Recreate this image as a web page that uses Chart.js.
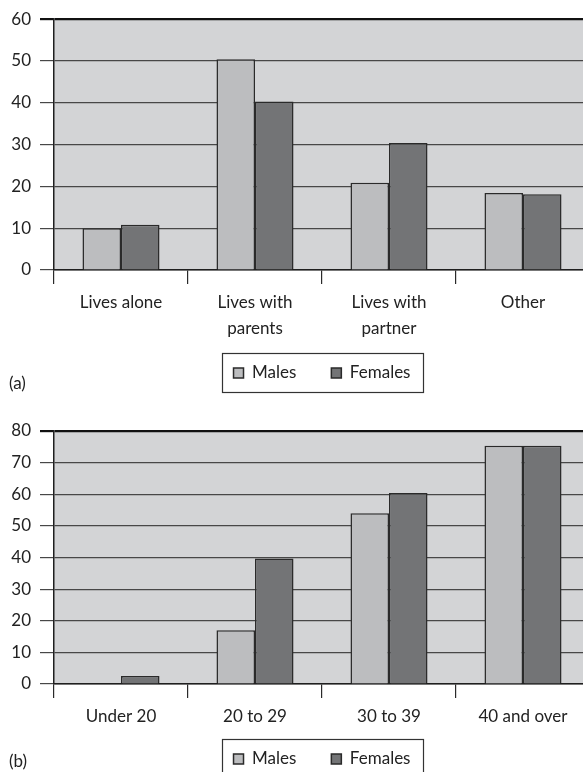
<!DOCTYPE html>
<html>
<head>
<meta charset="utf-8">
<script src="https://cdn.jsdelivr.net/npm/chart.js@4.4.1/dist/chart.umd.min.js"></script>
<style>
  html, body { margin: 0; padding: 0; background: #fff; width: 583px; height: 772px; overflow: hidden; position: relative; }
  canvas { position: absolute; left: 0; }
  .tag { position: absolute; left: 9px; font-family: Lato, sans-serif; font-size: 17px; color: #222; line-height: 22px; }
</style>
</head>
<body>
<canvas id="ca" width="590" height="412" style="top:0px"></canvas>
<canvas id="cb" width="590" height="396" style="top:400px"></canvas>
<div class="tag" style="top:372px">(a)</div>
<div class="tag" style="top:750px">(b)</div>
<script>
// ---- Data ----
const seriesNames = ['Males', 'Females'];

const livingCategories = [['Lives alone'], ['Lives with', 'parents'], ['Lives with', 'partner'], ['Other']];
const livingMales   = [10, 50.4, 20.9, 18.4];
const livingFemales = [10.8, 40.3, 30.4, 18.1];
const livingTicks = { min: 0, max: 60, step: 10 };

const ageCategories = ['Under 20', '20 to 29', '30 to 39', '40 and over'];
const ageMales   = [0, 17, 54, 75.3];
const ageFemales = [2.5, 39.7, 60.4, 75.3];
const ageTicks = { min: 0, max: 80, step: 10 };

// ---- Styles ----
const FONT = 'Lato, "Open Sans", sans-serif';
const TEXT = '#222';
const MALE_FILL = '#bcbdbf';
const FEMALE_FILL = '#737476';
const BAR_EDGE = '#2a2a2a';
const PLOT_BG = '#d3d4d6';
const GRID = '#474747';

const plotBg = {
  id: 'plotBg',
  beforeDraw(chart) {
    const { ctx, chartArea: a } = chart;
    ctx.save();
    ctx.fillStyle = PLOT_BG;
    ctx.fillRect(a.left, a.top, a.right - a.left, a.bottom - a.top);
    ctx.restore();
  }
};

const legendFrame = {
  id: 'legendFrame',
  afterLayout(chart, args, opts) {
    const lg = chart.legend, a = chart.chartArea;
    if (lg) {
      lg.left = a.left; lg.right = a.right;
      const h = lg.height;
      lg.top = opts.top; lg.bottom = opts.top + h;
    }
  },
  afterDraw(chart) {
    const lg = chart.legend;
    if (!lg || !lg.legendHitBoxes || !lg.legendHitBoxes.length) return;
    const hb = lg.legendHitBoxes;
    let l = Infinity, r = -Infinity, cy = 0;
    hb.forEach(h => { l = Math.min(l, h.left); r = Math.max(r, h.left + h.width); cy = h.top + h.height / 2; });
    const ctx = chart.ctx;
    ctx.save();
    ctx.strokeStyle = '#333';
    ctx.lineWidth = 1.2;
    ctx.strokeRect(Math.round(l - 12) + 0.5, Math.round(cy - 20) + 0.5, Math.round(r - l + 24), 39);
    ctx.restore();
  }
};

function makeChart(canvasId, labels, males, females, ticks, pad, xHeight, legendTop) {
  return new Chart(document.getElementById(canvasId), {
    type: 'bar',
    data: {
      labels: labels,
      datasets: [
        { label: seriesNames[0], data: males, backgroundColor: MALE_FILL, borderColor: BAR_EDGE, borderWidth: 1.5 },
        { label: seriesNames[1], data: females, backgroundColor: FEMALE_FILL, borderColor: BAR_EDGE, borderWidth: 1.5 }
      ]
    },
    options: {
      responsive: false,
      animation: false,
      devicePixelRatio: 1,
      layout: { padding: { top: pad.top, bottom: pad.bottom, left: 0, right: 0 } },
      datasets: { bar: { categoryPercentage: 0.575, barPercentage: 1 } },
      plugins: {
        tooltip: { enabled: false },
        legendFrame: { top: legendTop },
        legend: {
          position: 'bottom',
          labels: {
            font: { family: FONT, size: 17 },
            color: TEXT,
            boxWidth: 10,
            boxHeight: 10,
            padding: 35
          }
        }
      },
      scales: {
        x: {
          offset: true,
          grid: { offset: true, drawOnChartArea: false, drawTicks: true, tickLength: 14, color: '#2a2a2a', lineWidth: 1.2 },
          border: { display: true, color: '#1f1f1f', width: 1.5 },
          ticks: { font: { family: FONT, size: 17, lineHeight: 1.5 }, color: TEXT, padding: 6, maxRotation: 0, autoSkip: false },
          afterFit(scale) { scale.height = xHeight; }
        },
        y: {
          min: ticks.min,
          max: ticks.max,
          ticks: { stepSize: ticks.step, font: { family: FONT, size: 17 }, color: TEXT, padding: 9 },
          grid: {
            drawTicks: true,
            tickLength: 14,
            color: (c) => (c.tick && c.tick.value === ticks.max) ? '#111' : GRID,
            lineWidth: (c) => (c.tick && c.tick.value === ticks.max) ? 2.2 : 1.2
          },
          border: { display: true, color: '#1f1f1f', width: 1.5 },
          afterFit(scale) { scale.width = 54; }
        }
      }
    },
    plugins: [plotBg, legendFrame]
  });
}

makeChart('ca', livingCategories, livingMales, livingFemales, livingTicks, { top: 18, bottom: 0 }, 80, 329.5);
makeChart('cb', ageCategories, ageMales, ageFemales, ageTicks, { top: 31, bottom: 0 }, 50, 315.5);
</script>
</body>
</html>
